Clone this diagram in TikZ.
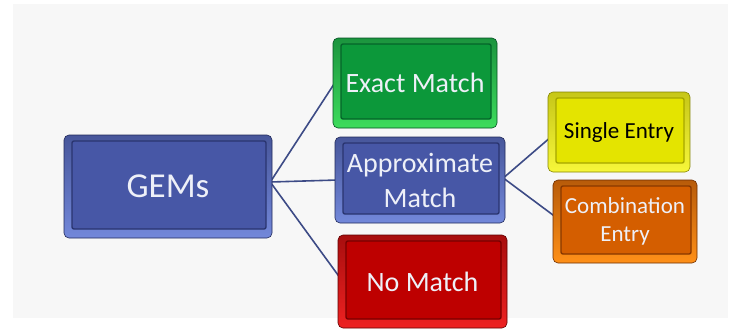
\documentclass[tikz,border=0pt]{standalone}
\usepackage{fontspec}
\setmainfont{Carlito}
\usetikzlibrary{backgrounds}
\definecolor{bgc}{HTML}{F7F7F7}
\definecolor{linec}{HTML}{3D4B86}
\definecolor{txtl}{HTML}{EEF0F8}
\definecolor{bluel}{HTML}{7388DA}\definecolor{bluem}{HTML}{4757A6}\definecolor{blued}{HTML}{2A3570}
\definecolor{greenl}{HTML}{3DDC5C}\definecolor{greenm}{HTML}{0C983A}\definecolor{greend}{HTML}{05642A}
\definecolor{redl}{HTML}{EE2222}\definecolor{redm}{HTML}{BE0000}\definecolor{redd}{HTML}{780000}
\definecolor{yell}{HTML}{F7F73A}\definecolor{yelm}{HTML}{E4E400}\definecolor{yeld}{HTML}{A6A600}
\definecolor{orgl}{HTML}{FF9018}\definecolor{orgm}{HTML}{D45E00}\definecolor{orgd}{HTML}{883800}
\tikzset{
  gem/.style n args={3}{rectangle, rounded corners=5pt, inner sep=0pt, align=center,
    top color=#3!60!#1, bottom color=#1, draw=#3!80!black, line width=0.6pt,
    path picture={\draw[fill=#2, draw=#3, line width=1.4pt, rounded corners=2pt]
      ([shift={(8pt,-6pt)}]path picture bounding box.north west) rectangle
      ([shift={(-6pt,9pt)}]path picture bounding box.south east);}},
  conn/.style={draw=linec, line width=1.6pt},
  big/.style={font=\fontsize{35}{40}\selectfont, text=txtl},
  mid/.style={font=\fontsize{28}{35}\selectfont, text=txtl},
  small/.style={font=\fontsize{23}{28}\selectfont},
}
\begin{document}
\begin{tikzpicture}[x=1pt,y=-1pt]
\useasboundingbox (0,0) rectangle (735,335);
\node[gem={bluel}{bluem}{blued}, big, minimum width=208pt, minimum height=103pt] (gems) at (168,186.5) {GEMs};
\node[gem={greenl}{greenm}{greend}, mid, minimum width=164pt, minimum height=90pt] (exact) at (415,83) {Exact Match};
\node[gem={bluel}{bluem}{blued}, mid, minimum width=170pt, minimum height=86pt] (approx) at (420,180) {Approximate\\Match};
\node[gem={redl}{redm}{redd}, mid, minimum width=169pt, minimum height=93pt] (nomatch) at (422.5,281.5) {No Match};
\node[gem={yell}{yelm}{yeld}, small, text=black, minimum width=142pt, minimum height=80pt] (single) at (619,132) {Single Entry};
\node[gem={orgl}{orgm}{orgd}, small, text=txtl, minimum width=144pt, minimum height=83pt] (comb) at (625,221.5) {Combination\\Entry};
\coordinate (j1) at ([shift={(-2pt,4.5pt)}]gems.east);
\coordinate (j2) at ([shift={(-2pt,2pt)}]approx.east);
\begin{pgfonlayer}{background}
\fill[white] (0,0) rectangle (735,335);
\fill[bgc] (13,4) rectangle (728,318);
\draw[conn] (j1) -- ([xshift=2pt]exact.west);
\draw[conn] (j1) -- ([xshift=3pt]approx.west);
\draw[conn] (j1) -- ([xshift=5pt]nomatch.west);
\draw[conn] (j2) -- ([xshift=9pt]single.west);
\draw[conn] (j2) -- ([xshift=9pt]comb.west);
\end{pgfonlayer}
\end{tikzpicture}
\end{document}
